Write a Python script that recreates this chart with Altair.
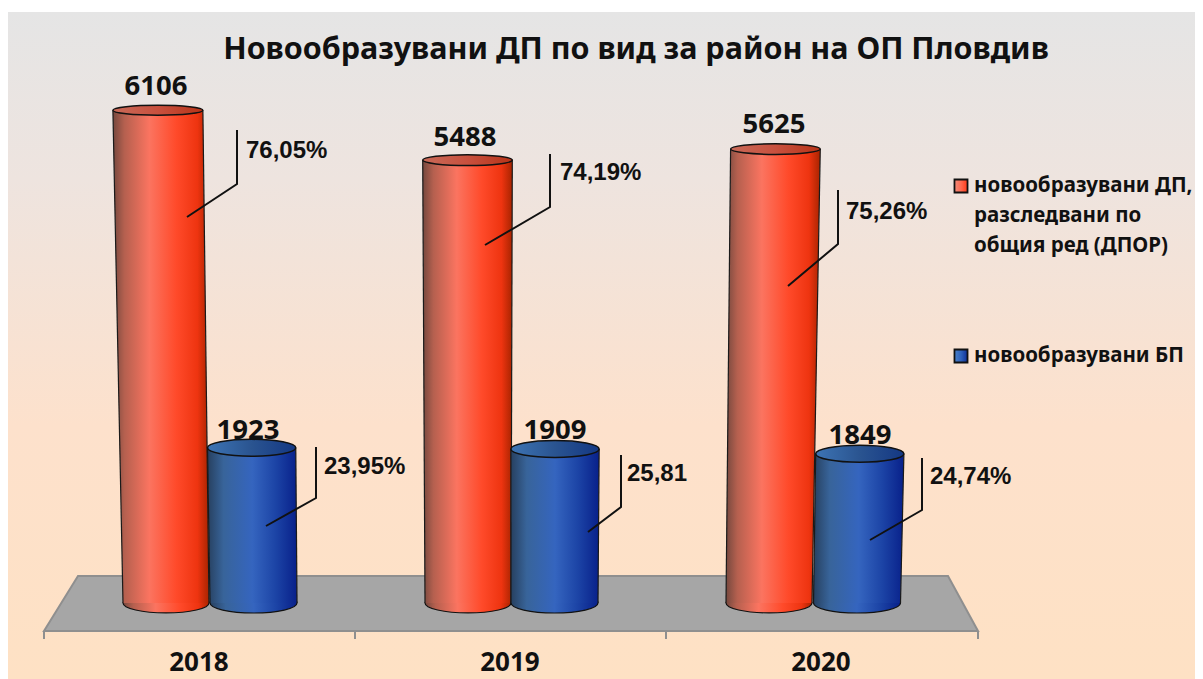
import altair as alt
import pandas as pd

YEARS = ["2018", "2019", "2020"]
SERIES_DP = [6106, 5488, 5625]
SERIES_BP = [1923, 1909, 1849]
SHARE_DP = ["76,05%", "74,19%", "75,26%"]
SHARE_BP = ["23,95%", "25,81", "24,74%"]
TITLE = "Новообразувани ДП по вид за  район  на ОП Пловдив"
LEGEND_DP = ["новообразувани ДП,", "разследвани по", "общия ред (ДПОР)"]
LEGEND_BP = ["новообразувани БП"]

# ---- layout (page pixels) ----
W, H = 1187, 671
PX_PER_UNIT = 0.0807
BASE_Y = 603
def val(py):
    return (BASE_Y - py) / PX_PER_UNIT

xs = alt.Scale(domain=[8, 8 + W], range=[0, W], nice=False, zero=False)
ys = alt.Scale(domain=[val(679), val(8)], range=[H, 0], nice=False, zero=False)
X = lambda f="x": alt.X(f"{f}:Q", scale=xs, axis=None)
Y = lambda f="y": alt.Y(f"{f}:Q", scale=ys, axis=None)

VP_X, K_SHIFT, K_WIDTH = 490, 4.1e-6, 7.6e-6
BASE_CX = {"dp": [166, 468, 769], "bp": [253.5, 554.5, 857]}
BASE_HW = {"dp": 43, "bp": 43.5}
VALUES = {"dp": SERIES_DP, "bp": SERIES_BP}

def ell_path(ratio):
    return f"M-1,0A1,{ratio:.3f},0,1,1,1,0A1,{ratio:.3f},0,1,1,-1,0Z"

def grad(stops):
    return alt.Gradient(gradient="linear", x1=0, x2=1, y1=0, y2=0,
                        stops=[alt.GradientStop(offset=o, color=c) for o, c in stops])

BODY = {
    "dp": grad([(0, "#75483e"), (0.12, "#b5604f"), (0.38, "#fb7460"), (0.66, "#ff4a2a"), (0.88, "#ee3410"), (1, "#a82400")]),
    "bp": grad([(0, "#27405f"), (0.18, "#38649a"), (0.5, "#3565bf"), (0.76, "#1c44a6"), (1, "#08208a")]),
}
CAP = {
    "dp": grad([(0, "#c96a58"), (0.5, "#c8503e"), (1, "#b83418")]),
    "bp": grad([(0, "#3d74b4"), (0.5, "#2a5490"), (1, "#143884")]),
}
SWATCH = {
    "dp": grad([(0, "#f08c7c"), (0.5, "#ff6a50"), (1, "#ff3a18")]),
    "bp": grad([(0, "#4a80c8"), (0.5, "#2f62bc"), (1, "#0f2e96")]),
}

def cylinder(key):
    body, sides, bottom, top = [], [], [], []
    for i, (cx, v) in enumerate(zip(BASE_CX[key], VALUES[key])):
        hw0 = BASE_HW[key]
        tcx = cx + (cx - VP_X) * K_SHIFT * v
        thw = hw0 * (1 + K_WIDTH * v)
        body += [dict(c=i, y=0, x=cx - hw0, x2=cx + hw0), dict(c=i, y=v, x=tcx - thw, x2=tcx + thw)]
        sides += [dict(c=f"{i}l", x=cx - hw0, y=0, x2=tcx - thw, y2=v),
                  dict(c=f"{i}r", x=cx + hw0, y=0, x2=tcx + thw, y2=v)]
        bottom.append(dict(x=cx, y=0, s=(2 * hw0) ** 2, p=ell_path(0.23)))
        ratio = 0.23 - 0.12 * v / 6106
        top.append(dict(x=tcx, y=v, s=(2 * thw) ** 2, p=ell_path(ratio)))
    layers = [
        alt.Chart(pd.DataFrame(bottom)).mark_point(filled=True, fill=BODY[key], stroke="#111", strokeWidth=1.2, opacity=1).encode(
            x=X(), y=Y(), size=alt.Size("s:Q", scale=None, legend=None), shape=alt.Shape("p:N", scale=None, legend=None)),
        alt.Chart(pd.DataFrame(body)).mark_area(orient="horizontal", fill=BODY[key], opacity=1).encode(
            x=X(), x2="x2:Q", y=Y(), detail="c:N"),
        alt.Chart(pd.DataFrame(sides)).mark_rule(color="#1a1a1a", strokeWidth=1.2).encode(
            x=X(), x2="x2:Q", y=Y(), y2="y2:Q"),
        alt.Chart(pd.DataFrame(top)).mark_point(filled=True, fill=CAP[key], stroke="#111", strokeWidth=1.5, opacity=1).encode(
            x=X(), y=Y(), size=alt.Size("s:Q", scale=None, legend=None), shape=alt.Shape("p:N", scale=None, legend=None)),
    ]
    return layers

bg = alt.Chart(pd.DataFrame({"a": [0]})).mark_rect(
    fill=alt.Gradient(gradient="linear", x1=0, x2=0, y1=0, y2=1, stops=[
        alt.GradientStop(offset=0, color="#e5e5e5"),
        alt.GradientStop(offset=0.25, color="#eee4df"),
        alt.GradientStop(offset=0.62, color="#fde1cc"),
        alt.GradientStop(offset=1, color="#fee1c4"),
    ])
).encode(x=alt.value(0), x2=alt.value(W), y=alt.value(4), y2=alt.value(H))

floor_df = pd.DataFrame([
    dict(y=val(576), x=78, x2=948),
    dict(y=val(631), x=44, x2=978),
])
floor = alt.Chart(floor_df).mark_area(orient="horizontal", color="#a6a6a6", stroke="#8f8f8f", strokeWidth=2, opacity=1).encode(
    x=X(), x2="x2:Q", y=Y())
TICKS_X = [44, 355, 666, 978]
ticks = alt.Chart(pd.DataFrame({"x": TICKS_X, "y": val(631), "y2": val(639)})).mark_rule(color="#8f8f8f", strokeWidth=2).encode(
    x=X(), y=Y(), y2="y2:Q")

LEADERS = [
    [(187, 217), (237, 184), (237, 130)],
    [(485, 245), (550, 207), (550, 154)],
    [(788, 286), (838, 244), (838, 190)],
    [(266, 526), (316, 498), (316, 447)],
    [(588, 532), (621, 507), (621, 455)],
    [(870, 540), (922, 510), (922, 458)],
]
lead_rows = [dict(g=i, o=j, x=p[0], y=val(p[1])) for i, l in enumerate(LEADERS) for j, p in enumerate(l)]
leaders = alt.Chart(pd.DataFrame(lead_rows)).mark_line(color="#111", strokeWidth=2).encode(
    x=X(), y=Y(), detail="g:N", order="o:Q")

def text_layer(rows, **kw):
    return alt.Chart(pd.DataFrame(rows)).mark_text(**kw).encode(x=X(), y=Y(), text="t:N")

SANS = "Noto Sans"
ARIAL = "Liberation Sans"

title = text_layer([dict(x=636, y=val(50), t=TITLE)], font=SANS, fontWeight="bold", fontSize=30.5, color="#111", align="center", baseline="middle")

VAL_X = [156, 465, 774, 248, 555, 860]
VAL_Y = [87, 138, 125, 431, 431, 436]
value_rows = [dict(x=x, y=val(y), t=str(v)) for x, y, v in zip(VAL_X, VAL_Y, SERIES_DP + SERIES_BP)]
value_labels = text_layer(value_rows, font=SANS, fontWeight="bold", fontSize=27.5, color="#111", align="center", baseline="middle")

PCT_X = [246, 560, 846, 324, 627, 930]
PCT_Y = [151, 173, 212, 467, 474, 477]
pct_rows = [dict(x=x, y=val(y), t=t) for x, y, t in zip(PCT_X, PCT_Y, SHARE_DP + SHARE_BP)]
pct_labels = text_layer(pct_rows, font=ARIAL, fontWeight="bold", fontSize=24, color="#111", align="left", baseline="middle")

YEAR_X = [199, 510, 821]
year_rows = [dict(x=x, y=val(663), t=t) for x, t in zip(YEAR_X, YEARS)]
year_labels = text_layer(year_rows, font=SANS, fontWeight="bold", fontSize=26, color="#111", align="center", baseline="middle")

LEG_Y = [186, 216, 246]
leg_rows = [dict(x=974, y=val(y), t=t) for y, t in zip(LEG_Y, LEGEND_DP)] + [dict(x=974, y=val(356), t=LEGEND_BP[0])]
legend_text = text_layer(leg_rows, font=SANS, fontWeight="bold", fontSize=20.5, color="#111", align="left", baseline="middle")

def swatch(key, py):
    return alt.Chart(pd.DataFrame([dict(x=961, y=val(py))])).mark_square(
        size=170, fill=SWATCH[key], stroke="#111", strokeWidth=1.8, opacity=1, filled=True
    ).encode(x=X(), y=Y())

chart = alt.layer(
    bg, floor, ticks,
    *cylinder("dp"), *cylinder("bp"),
    leaders, title, value_labels, pct_labels, year_labels, legend_text,
    swatch("dp", 186), swatch("bp", 356),
).properties(
    width=W, height=H, padding=0, autosize=alt.AutoSizeParams(type="none"), background="#ffffff"
).configure_view(stroke=None)

chart.save("out.html", embed_options={"renderer": "svg", "actions": False})
